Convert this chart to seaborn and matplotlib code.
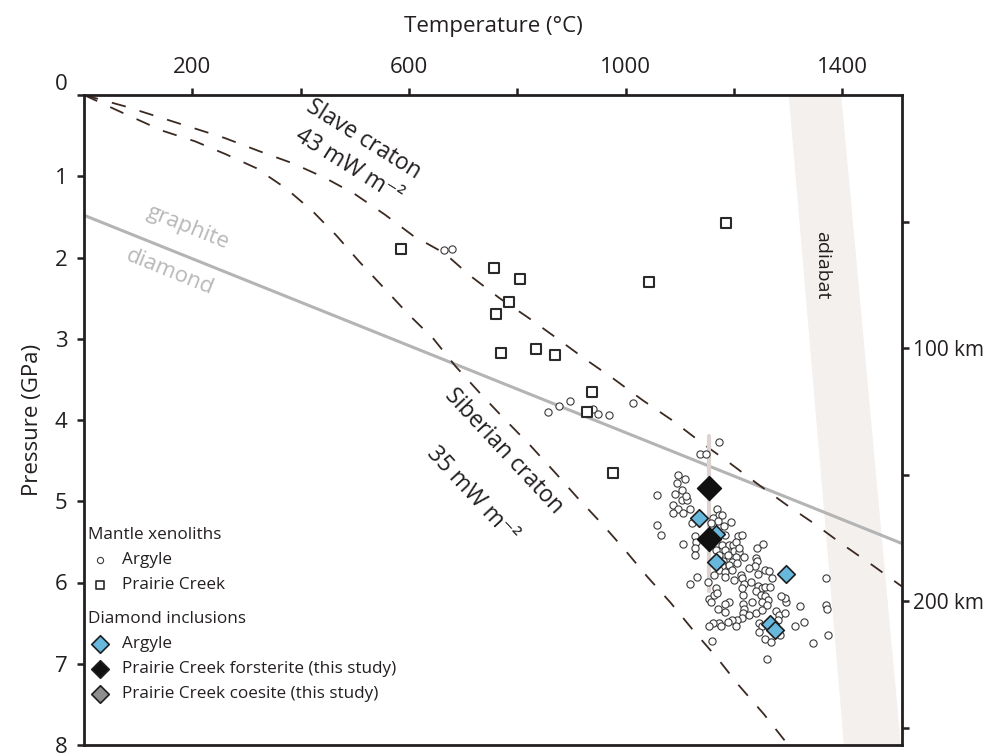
import numpy as np
import pandas as pd
import matplotlib
matplotlib.use("Agg")
import matplotlib.pyplot as plt
import seaborn as sns

sns.set_theme(style="white")
plt.rcParams['font.family'] = ['Open Sans', 'DejaVu Sans']

INK = '#231f20'

# ---------------- data ----------------
# Geotherms (Temperature degC, Pressure GPa)
slave_T = [0, 76, 199, 260, 323, 385, 445, 500, 555, 607, 666, 712, 767, 820, 872, 925,
           977, 1032, 1085, 1140, 1190, 1244, 1296, 1349, 1400, 1456, 1510]
slave_P = [0, 0.14, 0.40, 0.53, 0.69, 0.84, 1.02, 1.22, 1.47, 1.73, 1.95, 2.22, 2.50, 2.74, 2.99, 3.25,
           3.49, 3.76, 4.00, 4.28, 4.52, 4.79, 5.04, 5.28, 5.53, 5.79, 6.05]
siber_T = [0, 78, 145, 205, 262, 318, 373, 422, 466, 508, 553, 599, 645, 686, 731, 775,
           822, 870, 910, 955, 996, 1040, 1083, 1126, 1169, 1208, 1255, 1300]
siber_P = [0, 0.24, 0.44, 0.57, 0.73, 0.90, 1.15, 1.43, 1.73, 2.05, 2.37, 2.70, 3.00, 3.34, 3.67, 3.98,
           4.30, 4.65, 4.95, 5.27, 5.58, 5.93, 6.25, 6.60, 6.93, 7.26, 7.62, 8.00]

# graphite-diamond transition
gd_T = [0, 1510]
gd_P = [1.48, 5.52]

# adiabat band edges (T at P=0 and P=8)
adiabat_P = [0, 8]
adiabat_left_T = [1300, 1402]
adiabat_right_T = [1397, 1507]

# Prairie Creek xenoliths (squares)
pc_T = [585, 757, 805, 784, 760, 1043, 769, 835, 869, 937, 928, 1185, 977]
pc_P = [1.90, 2.13, 2.26, 2.55, 2.69, 2.30, 3.18, 3.12, 3.20, 3.65, 3.90, 1.57, 4.65]

# Argyle xenoliths (small circles)
arg_T = [664, 679, 856, 877, 897, 940, 949, 970, 1013,
         1173, 1138, 1149, 1097, 1109, 1094, 1103, 1057, 1091, 1103, 1114, 1088, 1097, 1105, 1088,
         1118, 1057, 1065, 1105, 1128, 1130, 1128, 1128, 1169, 1172, 1178, 1161, 1170, 1194, 1181,
         1157, 1123, 1184, 1208, 1214, 1177, 1191, 1198, 1184, 1200, 1209, 1188, 1203, 1218, 1180,
         1197, 1206, 1191, 1178, 1172, 1184, 1197, 1212, 1200, 1215, 1218, 1184, 1166, 1154, 1157,
         1163, 1169, 1131, 1119, 1243, 1253, 1240, 1243, 1239, 1245, 1258, 1264, 1245, 1251, 1258,
         1266, 1240, 1249, 1257, 1262, 1252, 1241, 1251, 1261, 1277, 1283, 1294, 1295, 1294, 1321,
         1282, 1246, 1252, 1246, 1258, 1269, 1285, 1261, 1313, 1329, 1345, 1374, 1369, 1370, 1371,
         1191, 1183, 1171, 1184, 1216, 1218, 1216, 1214, 1206, 1197, 1188, 1172, 1161, 1153, 1175,
         1204, 1160, 1216, 1215, 1111, 1160, 1151, 1166, 1172, 1163, 1151, 1203, 1210, 1228, 1231,
         1270, 1286, 1227, 1234]
arg_P = [1.91, 1.90, 3.90, 3.83, 3.77, 3.86, 3.92, 3.94, 3.79,
         4.27, 4.42, 4.42, 4.68, 4.72, 4.77, 4.86, 4.92, 4.91, 4.99, 4.99, 5.04, 5.09, 5.14, 5.14,
         5.10, 5.29, 5.41, 5.52, 5.43, 5.50, 5.58, 5.66, 5.10, 5.17, 5.17, 5.21, 5.24, 5.26, 5.31,
         5.27, 5.27, 5.42, 5.43, 5.42, 5.54, 5.54, 5.54, 5.60, 5.61, 5.63, 5.66, 5.69, 5.68, 5.74,
         5.75, 5.76, 5.78, 5.80, 5.84, 5.87, 5.85, 5.91, 5.97, 5.95, 6.02, 5.93, 6.07, 6.20, 6.24,
         6.15, 6.13, 5.93, 6.02, 5.58, 5.53, 5.70, 5.73, 5.80, 5.89, 5.85, 5.86, 6.04, 6.07, 6.06,
         6.06, 6.11, 6.15, 6.17, 6.22, 6.24, 6.37, 6.34, 6.28, 6.35, 6.40, 6.38, 6.24, 6.19, 6.29,
         6.46, 6.50, 6.53, 6.61, 6.69, 6.73, 6.65, 6.94, 6.54, 6.49, 6.75, 6.64, 5.94, 6.28, 6.32,
         6.24, 6.26, 6.33, 6.36, 6.26, 6.32, 6.38, 6.44, 6.46, 6.46, 6.48, 6.50, 6.50, 6.54, 6.53,
         6.53, 6.72, 6.15, 6.07, 4.94, 5.39, 5.45, 5.60, 5.66, 5.91, 5.99, 5.50, 5.58, 5.82, 5.99,
         5.95, 6.17, 6.40, 6.24]

# Diamond inclusions
incl_arg_T = [1136, 1166, 1166, 1295, 1266, 1275]
incl_arg_P = [5.21, 5.40, 5.75, 5.90, 6.51, 6.59]
incl_pc_T = [1153, 1153]
incl_pc_P = [4.84, 5.47]
pc_range_T = [1153, 1153]
pc_range_P = [4.20, 6.11]

# depth axis
km_per_GPa = 32.1
depth_ticks = [50, 100, 150, 200, 250]
depth_labels = ['', '100 km', '', '200 km', '']
top_ticks = [200, 400, 600, 800, 1000, 1200, 1400]
top_labels = ['200', '', '600', '', '1000', '', '1400']

# ---------------- figure ----------------
fig = plt.figure(figsize=(10.08, 7.56), dpi=100)
ax = fig.add_axes([84 / 1008, 11 / 756, 818 / 1008, 650 / 756])

# adiabat band
ax.fill_betweenx(adiabat_P, adiabat_left_T, adiabat_right_T, color='#f3f0ee', lw=0, zorder=0)

# graphite-diamond line
sns.lineplot(x=gd_T, y=gd_P, ax=ax, color='#b4b4b4', lw=2.2, sort=False, estimator=None, zorder=1)

# geotherms
for T, P in [(slave_T, slave_P), (siber_T, siber_P)]:
    sns.lineplot(x=T, y=P, ax=ax, color='#3b2a22', lw=1.3, sort=False, estimator=None,
                 linestyle=(0, (8, 8)), zorder=2)

# vertical range
sns.lineplot(x=pc_range_T, y=pc_range_P, ax=ax, color='#ddd3d0', lw=3, sort=False,
             estimator=None, zorder=2)

# xenoliths
sns.scatterplot(x=arg_T, y=arg_P, ax=ax, marker='o', s=27, facecolor='white',
                edgecolor='#3a3a3a', linewidth=0.8, zorder=3)
sns.scatterplot(x=pc_T, y=pc_P, ax=ax, marker='s', s=48, facecolor='white',
                edgecolor='#2a2a2a', linewidth=1.5, zorder=3)
# inclusions
sns.scatterplot(x=incl_arg_T, y=incl_arg_P, ax=ax, marker='D', s=80, facecolor='#67b8dc',
                edgecolor='#1e1e1e', linewidth=1.2, zorder=4)
sns.scatterplot(x=incl_pc_T, y=incl_pc_P, ax=ax, marker='D', s=150, facecolor='#111111',
                edgecolor='#111111', linewidth=1.0, zorder=5)

# axes limits/ticks
ax.set_xlim(0, 1510)
ax.set_ylim(8, 0)
ax.xaxis.tick_top()
ax.xaxis.set_label_position('top')
ax.set_xticks(top_ticks)
ax.set_xticklabels(top_labels)
ax.set_yticks(range(0, 9))
ax.set_xlabel('Temperature (°C)', fontsize=16, color=INK, labelpad=18)
ax.set_ylabel('Pressure (GPa)', fontsize=16, color=INK, labelpad=8)
ax.tick_params(axis='both', direction='out', length=5, width=1.8, colors=INK, labelsize=16,
               top=True, left=True, bottom=False, right=False, pad=7)
ax.yaxis.get_major_ticks()[0].label1.set_verticalalignment('bottom')
for sp in ax.spines.values():
    sp.set_color(INK)
    sp.set_linewidth(2)

sec = ax.secondary_yaxis('right', functions=(lambda p: p * km_per_GPa, lambda d: d / km_per_GPa))
sec.set_yticks(depth_ticks)
sec.set_yticklabels(depth_labels)
sec.tick_params(direction='out', length=5, width=1.8, colors=INK, labelsize=15, pad=3)
sec.spines['right'].set_visible(False)

# annotations
ax.text(516, 0.55, 'Slave craton', rotation=-32, rotation_mode='anchor', ha='center', va='center',
        fontsize=16.5, color=INK)
ax.text(488, 0.88, '43 mW m⁻²', rotation=-32, rotation_mode='anchor', ha='center', va='center',
        fontsize=16.5, color=INK)
ax.text(775, 4.38, 'Siberian craton', rotation=-47, rotation_mode='anchor', ha='center', va='center',
        fontsize=16.5, color=INK)
ax.text(716, 4.92, '35 mW m⁻²', rotation=-47, rotation_mode='anchor', ha='center', va='center',
        fontsize=16.5, color=INK)
ax.text(192, 1.63, 'graphite', rotation=-22, rotation_mode='anchor', ha='center', va='center',
        fontsize=16, color='#b8b8b8')
ax.text(158, 2.18, 'diamond', rotation=-22, rotation_mode='anchor', ha='center', va='center',
        fontsize=16, color='#b8b8b8')
ax.text(1362, 2.1, 'adiabat', rotation=-90, rotation_mode='anchor', ha='center', va='center',
        fontsize=14, color=INK)

# legend (manual, axes coordinates)
tr = ax.transAxes
FS = 12.3
ax.text(0.005, 0.323, 'Mantle xenoliths', transform=tr, fontsize=FS, color=INK, va='center')
ax.scatter([0.02], [0.285], transform=tr, marker='o', s=20, facecolor='white', edgecolor='#3a3a3a',
           linewidth=0.8, clip_on=False, zorder=6)
ax.text(0.046, 0.285, 'Argyle', transform=tr, fontsize=FS, color=INK, va='center')
ax.scatter([0.02], [0.246], transform=tr, marker='s', s=30, facecolor='white', edgecolor='#2a2a2a',
           linewidth=1.2, clip_on=False, zorder=6)
ax.text(0.046, 0.246, 'Prairie Creek', transform=tr, fontsize=FS, color=INK, va='center')
ax.text(0.005, 0.194, 'Diamond inclusions', transform=tr, fontsize=FS, color=INK, va='center')
legend_items = [('Argyle', '#67b8dc', 0.155),
                ('Prairie Creek forsterite (this study)', '#111111', 0.117),
                ('Prairie Creek coesite (this study)', '#8e8e8e', 0.078)]
for lab, col, yy in legend_items:
    ax.scatter([0.02], [yy], transform=tr, marker='D', s=80, facecolor=col, edgecolor='#1e1e1e',
               linewidth=1.2, clip_on=False, zorder=6)
    ax.text(0.046, yy, lab, transform=tr, fontsize=FS, color=INK, va='center')

fig.savefig('out.png', dpi=100)
